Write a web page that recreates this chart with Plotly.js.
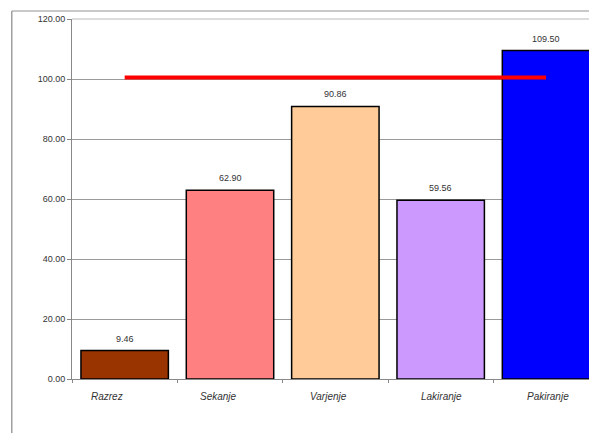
<!DOCTYPE html>
<html>
<head>
<meta charset="utf-8">
<script src="https://cdn.plot.ly/plotly-3.0.1.min.js"></script>
<style>
html,body{margin:0;padding:0;background:#fff;}
#chart{width:589px;height:433px;}
</style>
</head>
<body>
<div id="chart"></div>
<script>
var categories = ["Razrez", "Sekanje", "Varjenje", "Lakiranje", "Pakiranje"];
var values = [9.46, 62.90, 90.86, 59.56, 109.50];
var barColors = ["#993300", "#FF8080", "#FFCC99", "#CC99FF", "#0000FF"];
var targetValues = [100.5, 100.5, 100.5, 100.5, 100.5];
var yTicks = [0, 20, 40, 60, 80, 100, 120];

var font = "Liberation Sans, Arial, sans-serif";

var bars = {
  type: "bar",
  x: categories,
  y: values,
  width: 0.83,
  marker: {color: barColors, line: {color: "#000", width: 1.5}},
  hoverinfo: "none",
  showlegend: false
};
var target = {
  type: "scatter",
  mode: "lines",
  x: categories,
  y: targetValues,
  line: {color: "#FF0000", width: 4},
  hoverinfo: "none",
  showlegend: false,
  cliponaxis: false
};

var annotations = categories.map(function (c, i) {
  return {
    x: c, y: values[i], text: values[i].toFixed(2),
    showarrow: false, yanchor: "bottom", yshift: 5,
    font: {family: font, size: 9, color: "#333"}
  };
});
// category labels (Excel-like placement)
var labelShift = [-18, -12, -7, 1, 2];
categories.forEach(function (c, i) {
  annotations.push({
    x: c, xref: "x", y: 0, yref: "paper", text: c,
    showarrow: false, yanchor: "middle", yshift: -17, xshift: labelShift[i],
    font: {family: font, size: 10, color: "#333", style: "italic"}
  });
});

var layout = {
  width: 589, height: 433,
  margin: {l: 72, r: 0, t: 19, b: 54, pad: 0},
  paper_bgcolor: "#fff", plot_bgcolor: "#fff",
  xaxis: {
    type: "category",
    range: [-0.5, 4.408],
    showgrid: false,
    showline: true, linecolor: "#888", linewidth: 1,
    ticks: "outside", tickson: "boundaries", ticklen: 3, tickcolor: "#888",
    showticklabels: false,
    zeroline: false, fixedrange: true
  },
  yaxis: {
    range: [0, 120],
    tickvals: yTicks,
    tickformat: ".2f",
    showgrid: true, gridcolor: "#9a9a9a", gridwidth: 1,
    showline: true, linecolor: "#888", linewidth: 1,
    ticks: "outside", ticklen: 4, tickcolor: "#888",
    tickfont: {family: font, size: 9, color: "#333"},
    zeroline: false, fixedrange: true
  },
  annotations: annotations,
  shapes: [
    {type: "line", xref: "paper", yref: "paper", x0: -0.1165, x1: 1.01, y0: 1.0222, y1: 1.0222,
     line: {color: "#c8c8c8", width: 2}},
    {type: "line", xref: "paper", yref: "paper", x0: -0.1165, x1: -0.1165, y0: 1.0222, y1: -0.2,
     line: {color: "#a0a0a0", width: 1.5}},
    {type: "line", xref: "paper", yref: "paper", x0: 0, x1: 1.01, y0: 1, y1: 1,
     line: {color: "#d0d0d0", width: 1.5}}
  ]
};

Plotly.newPlot("chart", [bars, target], layout, {displayModeBar: false, staticPlot: true});
</script>
</body>
</html>
